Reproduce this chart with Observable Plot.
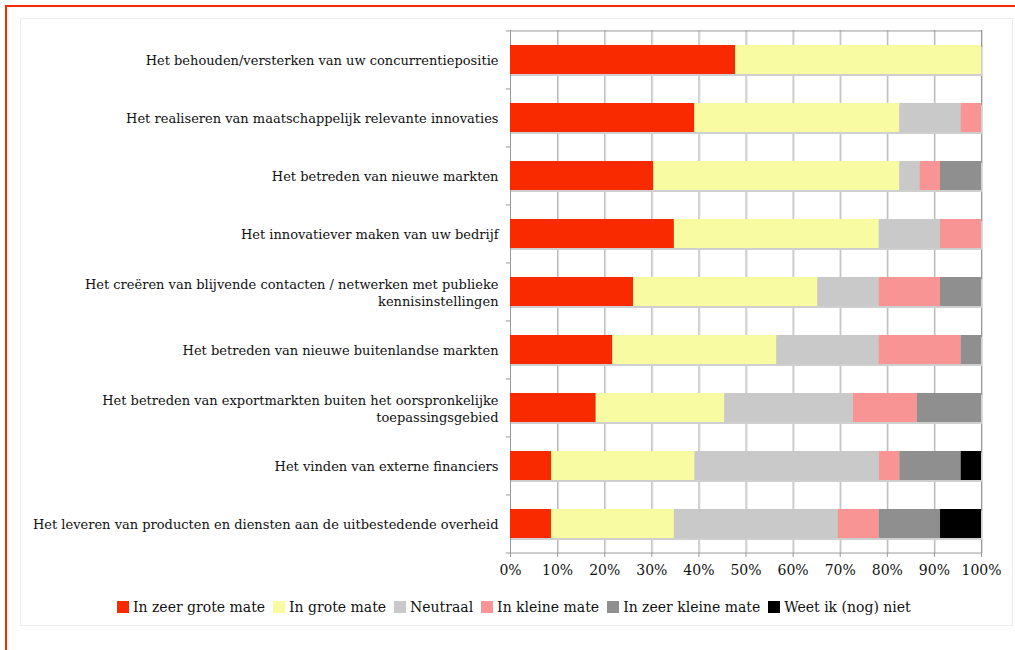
<!DOCTYPE html>
<html>
<head>
<meta charset="utf-8">
<script src="https://cdn.jsdelivr.net/npm/d3@7"></script>
<script src="https://cdn.jsdelivr.net/npm/@observablehq/plot@0.6"></script>
<style>
  body { margin: 0; background: #fff; }
  #wrap { position: relative; width: 1015px; height: 650px; overflow: hidden; background: #fff; }
  .redtop { position: absolute; left: 5px; top: 5px; width: 1010px; height: 2px; background: #f92a00; }
  .redleft { position: absolute; left: 5px; top: 5px; width: 2px; height: 645px; background: #f92a00; }
  .panel { position: absolute; left: 20px; top: 18px; width: 991px; height: 606px; border: 1px solid #ececec; }
  #chart { position: absolute; left: 0; top: 0; }
  #legend { position: absolute; left: 117px; top: 599px; display: flex; align-items: center;
            font-family: "DejaVu Serif", serif; font-size: 14px; color: #111; white-space: nowrap; }
  #legend .item { display: flex; align-items: center; margin-right: 8px; }
  #legend .sw { width: 12px; height: 12px; margin-right: 4px; }
</style>
</head>
<body>
<div id="wrap">
  <div class="redtop"></div>
  <div class="redleft"></div>
  <div class="panel"></div>
  <div id="chart"></div>
  <div id="legend"></div>
</div>
<script>
const categories = [
  "Het behouden/versterken van uw concurrentiepositie",
  "Het realiseren van maatschappelijk relevante innovaties",
  "Het betreden van nieuwe markten",
  "Het innovatiever maken van uw bedrijf",
  "Het creëren van blijvende contacten / netwerken met publieke kennisinstellingen",
  "Het betreden van nieuwe buitenlandse markten",
  "Het betreden van exportmarkten buiten het oorspronkelijke toepassingsgebied",
  "Het vinden van externe financiers",
  "Het leveren van producten en diensten aan de uitbestedende overheid"
];
const categoryLabels = [
  "Het behouden/versterken van uw concurrentiepositie",
  "Het realiseren van maatschappelijk relevante innovaties",
  "Het betreden van nieuwe markten",
  "Het innovatiever maken van uw bedrijf",
  "Het creëren van blijvende contacten / netwerken met publieke\nkennisinstellingen",
  "Het betreden van nieuwe buitenlandse markten",
  "Het betreden van exportmarkten buiten het oorspronkelijke\ntoepassingsgebied",
  "Het vinden van externe financiers",
  "Het leveren van producten en diensten aan de uitbestedende overheid"
];
const seriesNames = ["In zeer grote mate", "In grote mate", "Neutraal", "In kleine mate", "In zeer kleine mate", "Weet ik (nog) niet"];
const seriesColors = ["#f92a00", "#f9fba2", "#c9c9c9", "#f89494", "#8f8f8f", "#000000"];

const inZeerGroteMate  = [47.8, 39.1, 30.4, 34.8, 26.1, 21.7, 18.2, 8.7, 8.7];
const inGroteMate      = [52.2, 43.5, 52.2, 43.5, 39.1, 34.8, 27.3, 30.4, 26.1];
const neutraal         = [0, 13.0, 4.3, 13.0, 13.0, 21.7, 27.3, 39.1, 34.8];
const inKleineMate     = [0, 4.3, 4.3, 8.7, 13.0, 17.4, 13.6, 4.3, 8.7];
const inZeerKleineMate = [0, 0, 8.7, 0, 8.7, 4.3, 13.6, 13.0, 13.0];
const weetIkNogNiet    = [0, 0, 0, 0, 0, 0, 0, 4.3, 8.7];
const xTicks = [0, 0.1, 0.2, 0.3, 0.4, 0.5, 0.6, 0.7, 0.8, 0.9, 1];

const seriesValues = [inZeerGroteMate, inGroteMate, neutraal, inKleineMate, inZeerKleineMate, weetIkNogNiet];
const rows = [];
seriesNames.forEach((s, si) => {
  categories.forEach((c, ci) => {
    rows.push({category: c, series: s, value: seriesValues[si][ci]});
  });
});
const labelOf = new Map(categories.map((c, i) => [c, categoryLabels[i]]));

const W = 1015, H = 592;
const mT = 30, mB = H - 553, mL = 510, mR = W - 981;
const step = (H - mT - mB) / categories.length;

const chart = Plot.plot({
  width: W,
  height: H,
  marginTop: mT,
  marginBottom: mB,
  marginLeft: mL,
  marginRight: mR,
  style: {fontFamily: "DejaVu Serif, serif", color: "#111", background: "transparent"},
  x: {domain: [0, 1], axis: null},
  y: {domain: categories, paddingInner: 0.5, paddingOuter: 0.25, axis: null},
  color: {domain: seriesNames, range: seriesColors},
  marks: [
    // grid lines with soft shadow
    Plot.ruleX(xTicks.slice(1, -1), {stroke: "#dedede", dx: 1}),
    Plot.ruleX(xTicks.slice(1, -1), {stroke: "#b3b3b3"}),
    // frame
    Plot.ruleX([1], {stroke: "#dcdcdc", dx: 1}),
    Plot.ruleY(categories.slice(0, 1), {y: d => d, x1: 0, x2: 1, dy: -step / 2, stroke: "#999"}),
    Plot.ruleX([0, 1], {stroke: "#999"}),
    Plot.ruleY(categories.slice(-1), {y: d => d, x1: 0, x2: 1, dy: step / 2, stroke: "#999"}),
    // small y ticks at band boundaries
    Plot.ruleY(categories, {y: d => d, x1: -0.009, x2: 0, dy: -step / 2, stroke: "#999", clip: false}),
    Plot.ruleY(categories.slice(-1), {y: d => d, x1: -0.009, x2: 0, dy: step / 2, stroke: "#999", clip: false}),
    // bar shadow
    Plot.barX(categories, {y: d => d, x1: 0, x2: 1, fill: "#cfcfcf", dy: 2, dx: 1}),
    // stacked bars
    Plot.barX(rows, Plot.stackX({y: "category", x: "value", fill: "series", offset: "normalize", order: seriesNames})),
    // axes
    Plot.axisX({ticks: xTicks, tickFormat: d3.format(".0%"), tickSize: 4, tickPadding: 8, fontSize: 14, stroke: "#999", color: "#111", label: null}),
    Plot.axisY({tickSize: 0, tickPadding: 12, fontSize: 13, lineHeight: 1.3, tickFormat: d => labelOf.get(d), label: null})
  ]
});
document.getElementById("chart").appendChild(chart);

const legend = document.getElementById("legend");
seriesNames.forEach((s, i) => {
  const item = document.createElement("div");
  item.className = "item";
  const sw = document.createElement("div");
  sw.className = "sw";
  sw.style.background = seriesColors[i];
  const t = document.createElement("span");
  t.textContent = s;
  item.appendChild(sw);
  item.appendChild(t);
  legend.appendChild(item);
});
</script>
</body>
</html>
